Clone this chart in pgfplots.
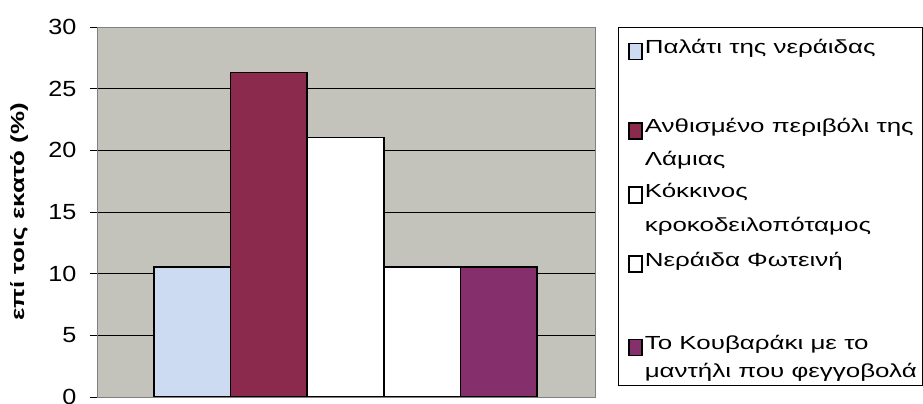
\documentclass[border=0pt]{standalone}
\usepackage{fontspec}
\setmainfont{Liberation Sans}
\usepackage{graphicx}
\usepackage{pgfplots}
\pgfplotsset{compat=1.18}
\definecolor{bgc}{HTML}{C3C3BC}
\definecolor{lblue}{HTML}{CCDAF2}
\definecolor{maroon}{HTML}{8C2A4E}
\definecolor{purp}{HTML}{85306C}
\newcommand{\sx}[1]{\scalebox{1.37}[1]{#1}}
\begin{document}
\begin{tikzpicture}
\begin{axis}[
  at={(0,0)}, anchor=south west,
  scale only axis, width=498bp, height=370bp,
  xmin=-1.244, xmax=5.257, ymin=0, ymax=30,
  ytick={0,5,...,30}, xtick=\empty,
  ytick pos=left, tick align=outside, major tick length=7bp,
  tick style={black, line width=0.8bp},
  ymajorgrids, grid style={black, line width=0.8bp},
  axis line style={draw=gray, line width=0.8bp},
  axis background/.style={fill=bgc},
  yticklabel={\scalebox{1.15}[1]{\pgfmathprintnumber[assume math mode=true]{\tick}}},
  yticklabel style={font=\fontsize{22}{26}\selectfont, xshift=-10bp},
  ylabel={\sx{\bfseries επί τοις εκατό (\%)}},
  every axis y label/.style={at={(axis description cs:-0.1566,0.5)}, rotate=90, anchor=center, font=\fontsize{19}{22}\selectfont},
  legend image code/.code={\draw[#1, draw=black, line width=1.4bp] (0bp,-6bp) rectangle (13bp,10bp);},
  legend style={at={(1,1)}, anchor=north west, xshift=23bp, draw=black, line width=0.8bp,
    inner xsep=10bp, inner ysep=10bp, row sep=0pt,
    font=\fontsize{19}{33}\selectfont, cells={anchor=base west},
    nodes={text depth=, text height=}},
]
\addplot[ybar, bar width=1, bar shift=0pt, fill=lblue, draw=black, line width=1.6bp] coordinates {(0,10.53)};
\addlegendentry{\parbox[t]{266bp}{\sx{Παλάτι της νεράιδας}\rule[-61bp]{0pt}{61bp}}}
\addplot[ybar, bar width=1, bar shift=0pt, fill=maroon, draw=black, line width=1.6bp] coordinates {(1,26.32)};
\addlegendentry{\parbox[t]{266bp}{\sx{Ανθισμένο περιβόλι της}\\\sx{Λάμιας}\rule[-13bp]{0pt}{13bp}}}
\addplot[ybar, bar width=1, bar shift=0pt, fill=white, draw=black, line width=1.6bp] coordinates {(2,21.05)};
\addlegendentry{\parbox[t]{266bp}{\sx{Κόκκινος}\\[2bp]\sx{κροκοδειλοπόταμος}\rule[-16bp]{0pt}{16bp}}}
\addplot[ybar, bar width=1, bar shift=0pt, fill=white, draw=black, line width=1.6bp] coordinates {(3,10.53)};
\addlegendentry{\parbox[t]{266bp}{\sx{Νεράιδα Φωτεινή}\rule[-65bp]{0pt}{65bp}}}
\addplot[ybar, bar width=1, bar shift=0pt, fill=purp, draw=black, line width=1.6bp] coordinates {(4,10.53)};
\addlegendentry{\parbox[t]{266bp}{\sx{Το Κουβαράκι με το}\\[-5bp]\sx{μαντήλι που φεγγοβολά}\par\vspace{-8bp}}}
\end{axis}
\pgfresetboundingbox
\path (-97bp,-7bp) rectangle (826bp,397bp);
\end{tikzpicture}
\end{document}
